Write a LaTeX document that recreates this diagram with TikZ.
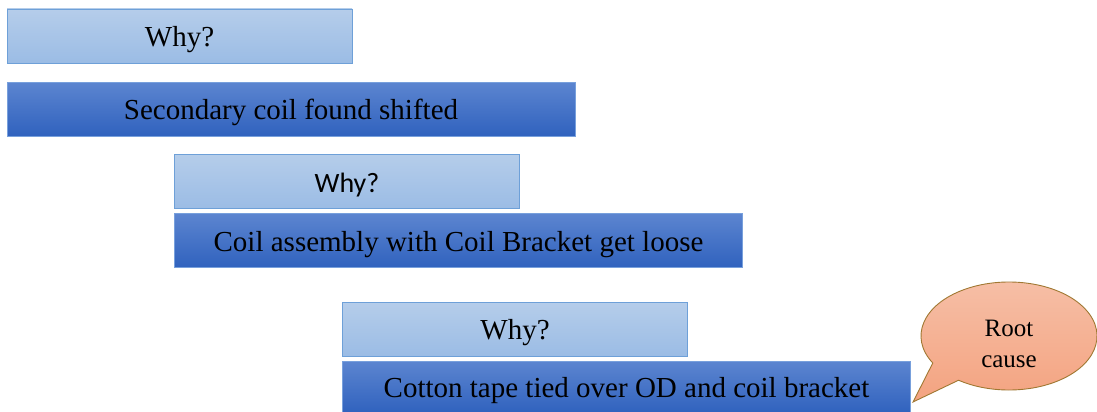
\documentclass[tikz,border=0pt]{standalone}
\usepackage{fontspec}
\setmainfont{Liberation Serif}
\newfontfamily\calib{Carlito}
\usetikzlibrary{calc}
\definecolor{ltop}{RGB}{181,205,234}
\definecolor{lbot}{RGB}{155,188,229}
\definecolor{lline}{RGB}{110,160,216}
\definecolor{dtop}{RGB}{92,133,208}
\definecolor{dbot}{RGB}{48,98,190}
\definecolor{dline}{RGB}{120,160,220}
\definecolor{ctop}{RGB}{246,192,168}
\definecolor{cbot}{RGB}{244,163,128}
\definecolor{cline}{RGB}{160,120,50}
\tikzset{
  boxtext/.style={text height=21pt, text depth=0pt, inner sep=0pt},
  lightbox/.style={draw=lline, line width=0.8pt, top color=ltop, bottom color=lbot,
    minimum width=345pt, minimum height=54pt, boxtext, font=\fontsize{29}{32}\selectfont},
  darkbox/.style={draw=dline, line width=0.8pt, top color=dtop, bottom color=dbot,
    minimum width=568pt, minimum height=54pt, boxtext, font=\fontsize{29}{32}\selectfont},
}
\begin{document}
\begin{tikzpicture}
\useasboundingbox (0,0) rectangle (1097pt,-412pt);
\node[lightbox] (w1) at (179.5pt,-36pt) {Why?};
\node[darkbox] (b1) at (291pt,-109pt) {Secondary coil found shifted};
\node[lightbox, font=\calib\fontsize{28}{32}\selectfont] (w2) at (347pt,-181.5pt) {Why?};
\node[darkbox] (b2) at (458.5pt,-240.5pt) {Coil assembly with Coil Bracket get loose};
\node[lightbox] (w3) at (515pt,-329pt) {Why?};
\node[darkbox, minimum height=52pt] (b3) at (626.5pt,-387pt) {Cotton tape tied over OD and coil bracket};
% callout
\coordinate (cc) at (1009pt,-336pt);
\coordinate (tip) at (913pt,-402pt);
\draw[cline, line width=0.9pt, top color=ctop, bottom color=cbot]
  ($(cc)+(235:88pt and 54pt)$) -- (tip) -- ($(cc)+(210:88pt and 54pt)$)
  arc[start angle=210, end angle=-125, x radius=88pt, y radius=54pt] -- cycle;
\node[align=center, font=\fontsize{25}{31}\selectfont, inner sep=0pt] (rc) at (1009pt,-344pt) {Root\\cause};
\end{tikzpicture}
\end{document}
